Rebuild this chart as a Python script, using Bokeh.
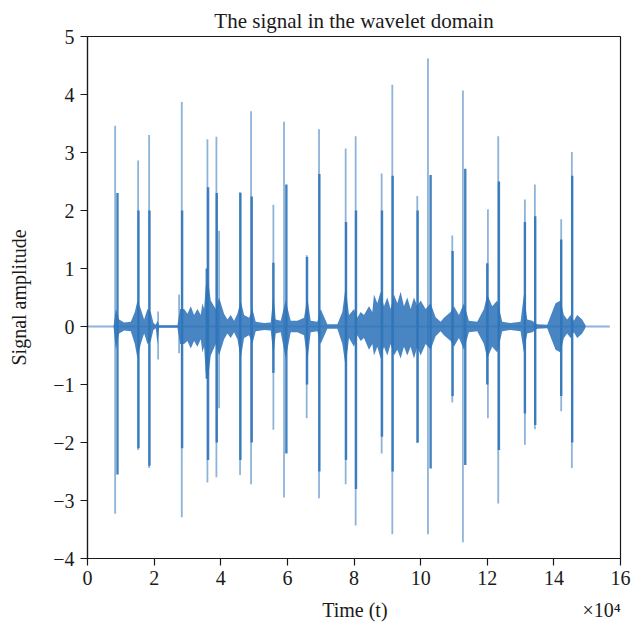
from bokeh.plotting import figure
from bokeh.models import Range1d, FixedTicker, CustomJSTickFormatter
from bokeh.embed import file_html
from bokeh.resources import INLINE

# ---- data (x in units of 1e4 samples) ----
baseline_x = [0.0, 15.68]
baseline_y = [0.0, 0.0]

# noise envelope of the bursts
env_x = [0.78, 0.85, 0.95, 1.1, 1.3, 1.42, 1.5, 1.6, 1.7, 1.8, 1.9, 1.98, 2.05,
         2.1, 2.15, 2.7, 2.78, 2.9, 3.0, 3.1, 3.2, 3.3, 3.4, 3.45, 3.5, 3.55, 3.62, 3.7, 3.85, 3.95,
         4.1, 4.2, 4.3, 4.4, 4.5, 4.6, 4.7, 4.85, 4.95, 5.05, 5.3, 5.5, 5.58, 5.65, 5.8,
         5.95, 6.1, 6.3, 6.5, 6.6, 6.7, 6.9, 7.0, 7.2, 7.5, 7.65, 7.75, 7.85,
         8.0, 8.1, 8.2, 8.3, 8.45, 8.55, 8.6, 8.7, 8.8, 8.9, 9.0, 9.1, 9.2, 9.3, 9.4, 9.5,
         9.6, 9.7, 9.8, 9.9, 10.0, 10.15,
         10.3, 10.45, 10.6, 10.7, 10.9, 11.0, 11.15, 11.3, 11.45, 11.7, 11.9, 12.0,
         12.15, 12.3, 12.45, 12.7, 13.0, 13.1, 13.2, 13.35, 13.5, 13.8, 14.05,
         14.2, 14.3, 14.4, 14.5, 14.6, 14.7, 14.85, 14.95]
env_hi = [0.0, 0.3, 0.12, 0.07, 0.08, 0.25, 0.45, 0.3, 0.12, 0.3, 0.25, 0.06, 0.03,
          0.1, 0.02, 0.02, 0.3, 0.3, 0.22, 0.35, 0.2, 0.3, 0.2, 0.4, 0.3, 0.7, 0.8, 0.45, 0.3, 0.5,
          0.22, 0.12, 0.2, 0.1, 0.22, 0.45, 0.2, 0.15, 0.3, 0.08, 0.06, 0.07, 0.55, 0.12, 0.1,
          0.45, 0.1, 0.1, 0.15, 0.5, 0.1, 0.08, 0.3, 0.04, 0.04, 0.25, 0.7, 0.2,
          0.3, 0.15, 0.25, 0.2, 0.35, 0.25, 0.55, 0.4, 0.6, 0.35, 0.5, 0.3, 0.55, 0.4, 0.6, 0.35,
          0.5, 0.3, 0.5, 0.35, 0.45, 0.3,
          0.4, 0.16, 0.08, 0.15, 0.25, 0.35, 0.2, 0.4, 0.1, 0.08, 0.3, 0.55, 0.35, 0.45,
          0.08, 0.06, 0.08, 0.55, 0.12, 0.1, 0.04, 0.03, 0.4, 0.45, 0.2, 0.12,
          0.2, 0.1, 0.2, 0.12, 0.02]
env_lo = [0.0, -0.4, -0.12, -0.07, -0.08, -0.3, -0.55, -0.3, -0.12, -0.3, -0.25, -0.06, -0.03,
          -0.3, -0.02, -0.02, -0.3, -0.3, -0.25, -0.38, -0.25, -0.35, -0.22, -0.45, -0.35, -0.8, -0.9, -0.5, -0.3, -0.5,
          -0.22, -0.12, -0.2, -0.1, -0.22, -0.55, -0.2, -0.15, -0.3, -0.08, -0.06, -0.07, -0.5, -0.12, -0.1,
          -0.55, -0.1, -0.1, -0.15, -0.6, -0.1, -0.08, -0.3, -0.04, -0.04, -0.3, -0.7, -0.2,
          -0.35, -0.15, -0.25, -0.2, -0.4, -0.3, -0.5, -0.35, -0.55, -0.35, -0.5, -0.3, -0.5, -0.4, -0.55, -0.35,
          -0.5, -0.35, -0.55, -0.35, -0.5, -0.3,
          -0.4, -0.17, -0.08, -0.15, -0.25, -0.35, -0.2, -0.4, -0.1, -0.08, -0.3, -0.55, -0.35, -0.45,
          -0.08, -0.06, -0.08, -0.45, -0.12, -0.1, -0.04, -0.03, -0.4, -0.45, -0.2, -0.12,
          -0.2, -0.1, -0.2, -0.12, -0.02]

# tall thin (light) spikes
spike_x = [0.83, 1.52, 1.85, 2.12, 2.75, 2.83, 3.60, 3.87, 3.95, 4.58, 4.91, 5.58,
           5.90, 6.58, 6.95, 7.75, 8.05, 8.83, 9.15, 9.90, 10.22, 10.95, 11.27,
           12.02, 12.33, 13.13, 13.43, 14.22, 14.54]
spike_hi = [3.46, 2.86, 3.30, 0.26, 0.55, 3.87, 3.23, 3.27, 1.65, 2.32, 3.71, 2.10,
            3.53, 1.23, 3.40, 3.07, 3.28, 2.64, 4.17, 2.25, 4.62, 1.57, 4.07,
            2.02, 3.28, 2.19, 2.45, 1.85, 3.01]
spike_lo = [-3.23, -2.13, -2.44, -0.57, -0.46, -3.29, -2.69, -2.60, -1.41, -2.56, -2.72, -1.78,
            -2.95, -1.58, -2.96, -2.72, -3.43, -2.19, -3.58, -2.01, -3.58, -1.31, -3.72,
            -1.58, -3.05, -2.04, -1.77, -1.46, -2.44]

# darker cores of the spikes
core_x = [0.90, 1.53, 1.86, 2.84, 3.58, 3.62, 3.88, 4.59, 4.93, 5.58, 5.97, 6.59,
          6.96, 7.76, 8.06, 8.84, 9.16, 9.91, 10.30, 10.96, 11.34, 12.00, 12.35,
          13.13, 13.44, 14.22, 14.55]
core_hi = [2.30, 2.00, 2.00, 2.00, 1.00, 2.40, 2.30, 2.30, 2.24, 1.10, 2.45, 1.20,
           2.63, 1.80, 2.00, 2.00, 2.60, 2.00, 2.61, 1.30, 2.72, 1.09, 2.50,
           1.80, 1.90, 1.50, 2.60]
core_lo = [-2.55, -2.10, -2.40, -2.10, -0.90, -2.30, -2.00, -2.30, -2.00, -0.80, -2.19, -1.00,
           -2.50, -2.30, -2.80, -1.90, -2.50, -2.00, -2.45, -1.20, -2.39, -1.00, -2.13,
           -1.50, -1.70, -1.20, -2.00]

x_ticks = [0, 2, 4, 6, 8, 10, 12, 14, 16]
y_ticks = [-4, -3, -2, -1, 0, 1, 2, 3, 4, 5]

BLUE = "#2f74b9"
FONT = "Liberation Serif"
INK = "#1a1a1a"
NB = "\u00a0"

p = figure(width=631, height=629, output_backend="svg", toolbar_location=None,
           x_range=Range1d(0, 16), y_range=Range1d(-4, 5),
           min_border_left=87, min_border_right=11, min_border_top=36, min_border_bottom=71)

p.title.text = "The signal in the wavelet domain"
p.title.align = "center"
p.title.text_font = FONT
p.title.text_font_size = "21px"
p.title.text_font_style = "normal"
p.title.text_color = INK
p.title.standoff = 8

p.xgrid.visible = False
p.ygrid.visible = False
p.outline_line_color = INK
p.outline_line_width = 1.2

p.line(baseline_x, baseline_y, color=BLUE, line_width=2, alpha=0.55)
p.varea(x=env_x, y1=env_lo, y2=env_hi, fill_color=BLUE, fill_alpha=0.88)
p.segment(x0=spike_x, y0=spike_lo, x1=spike_x, y1=spike_hi, line_color=BLUE,
          line_width=1.8, line_alpha=0.55)
p.segment(x0=core_x, y0=core_lo, x1=core_x, y1=core_hi, line_color=BLUE,
          line_width=2.4, line_alpha=0.9)

for ax in (p.xaxis[0], p.yaxis[0]):
    ax.axis_line_color = INK
    ax.axis_line_width = 1.2
    ax.major_tick_line_color = INK
    ax.major_tick_line_width = 1.2
    ax.major_tick_out = 7
    ax.major_tick_in = 0
    ax.minor_tick_out = 0
    ax.minor_tick_in = 0
    ax.major_label_text_font = FONT
    ax.major_label_text_font_size = "20px"
    ax.major_label_text_color = INK
    ax.axis_label_text_font = FONT
    ax.axis_label_text_font_size = "20px"
    ax.axis_label_text_font_style = "normal"
    ax.axis_label_text_color = INK

fmt = CustomJSTickFormatter(code="return tick < 0 ? '\u2212' + Math.abs(tick) : '' + tick;")
p.xaxis.ticker = FixedTicker(ticks=x_ticks)
p.yaxis.ticker = FixedTicker(ticks=y_ticks)
p.xaxis.formatter = fmt
p.yaxis.formatter = fmt
# the x10^4 multiplier sits on the same line as the axis title, at the right end
p.xaxis.axis_label = NB * 47 + "Time (t)" + NB * 39 + "×10⁴"
p.yaxis.axis_label = "Signal amplitude"
p.xaxis.major_label_standoff = 5
p.yaxis.major_label_standoff = 6
p.xaxis.axis_label_standoff = 11
p.yaxis.axis_label_standoff = 20

open("out.html", "w").write(file_html(p, INLINE))
